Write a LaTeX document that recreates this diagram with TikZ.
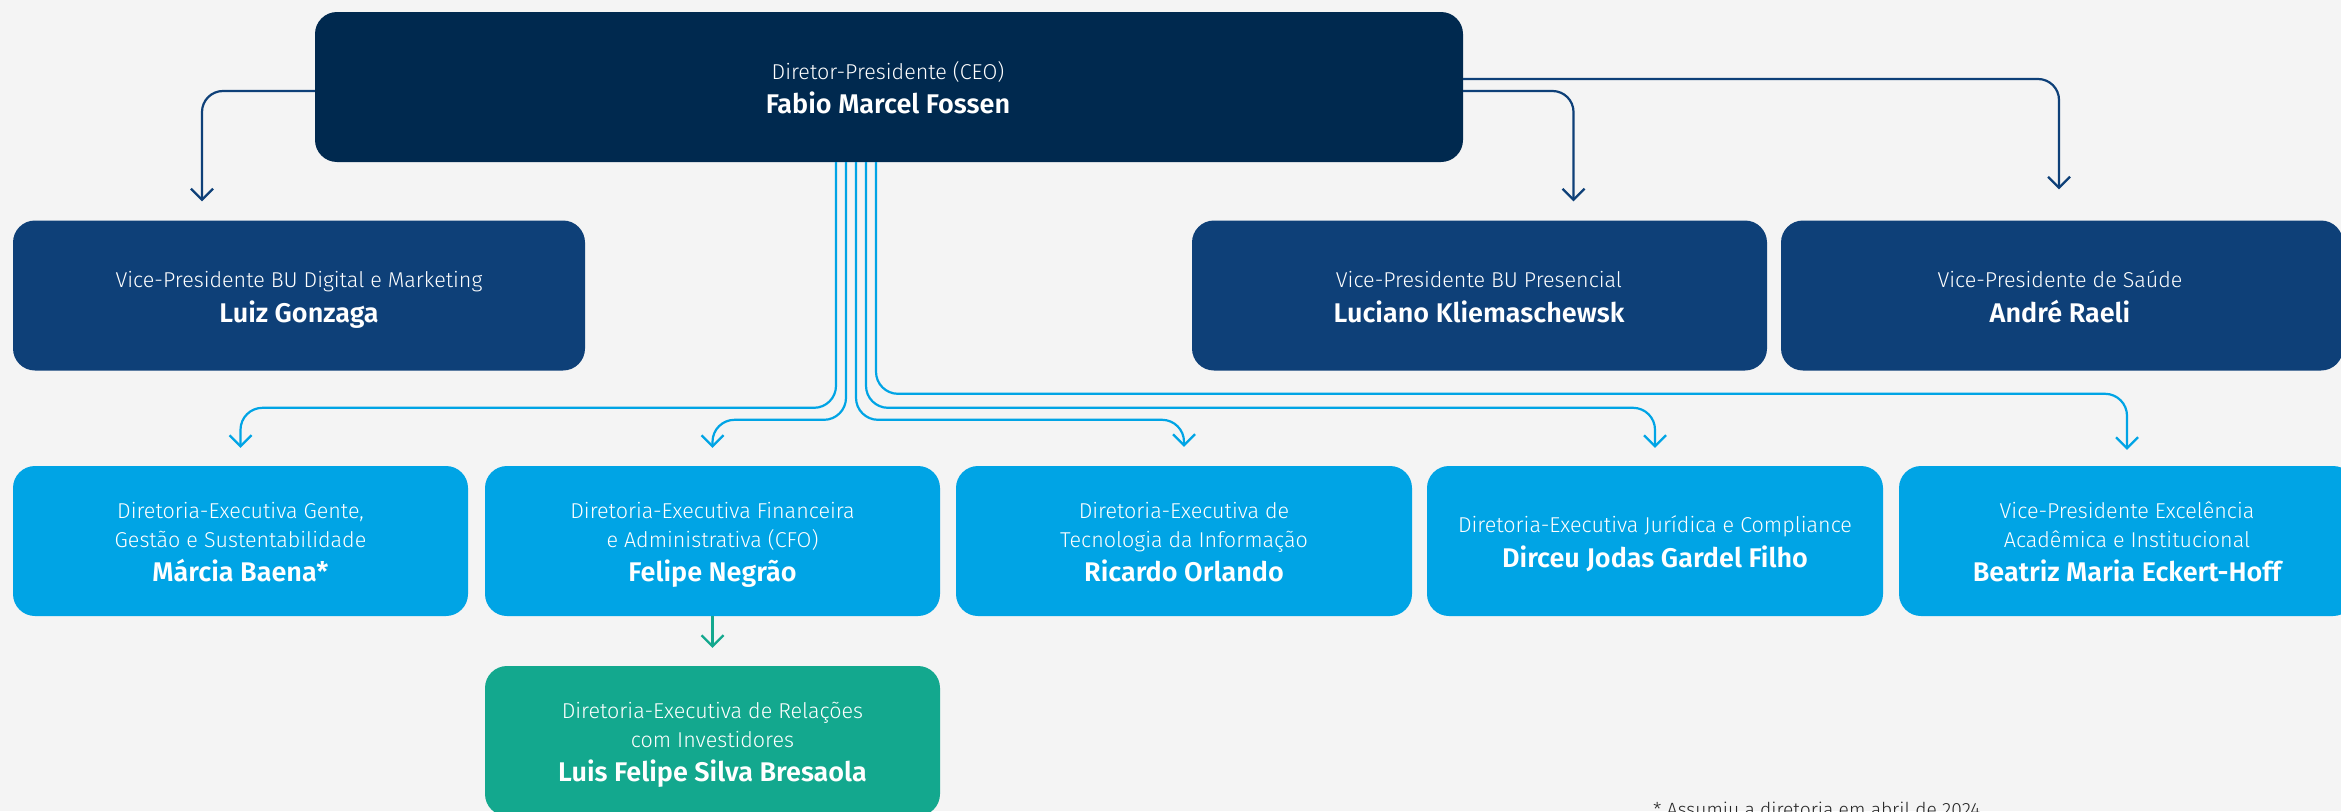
\documentclass[tikz,border=0pt]{standalone}
\usepackage{fontspec}
\setmainfont{Fira Sans}[UprightFont={* Light}, BoldFont={* SemiBold}]
\usetikzlibrary{arrows.meta}
\definecolor{bgc}{HTML}{F4F4F4}
\definecolor{ceoc}{HTML}{00294F}
\definecolor{vpc}{HTML}{0E4078}
\definecolor{dirc}{HTML}{00A4E5}
\definecolor{grnc}{HTML}{13A88E}
\tikzset{
  box/.style={rectangle, rounded corners=22pt, minimum height=150pt, inner sep=0pt, draw=none},
  ceobox/.style={box, fill=ceoc},
  vpbox/.style={box, fill=vpc},
  dirbox/.style={box, fill=dirc},
  grnbox/.style={box, fill=grnc},
  role/.style={anchor=base, inner sep=0pt, text=white, font=\fontsize{21.5}{26}\selectfont},
  pname/.style={anchor=base, inner sep=0pt, text=white, font=\bfseries\fontsize{27}{32}\selectfont},
  note/.style={anchor=base west, inner sep=0pt, text=black!85, font=\fontsize{19.2}{23}\selectfont},
  conn/.style={line width=2.2pt, -{Straight Barb[length=11pt, width=22pt, line width=2.2pt]}},
  darr/.style={conn, draw=vpc, rounded corners=21pt},
  larr/.style={conn, draw=dirc, rounded corners=22pt},
  garr/.style={conn, draw=grnc},
}
\begin{document}
\begin{tikzpicture}[x=1pt, y=-1pt]
\path[use as bounding box, fill=bgc] (0,0) rectangle (2341,811);
\begin{scope}
\clip (0,0) rectangle (2341,811);
% CEO
\node[ceobox, minimum width=1148pt] (ceo) at (889,87) {};
\node[role] (ceo-r) at (888,79) {Diretor-Presidente (CEO)};
\node[pname] (ceo-n) at (888,113) {Fabio Marcel Fossen};
% VP row
\node[vpbox, minimum width=572pt] (vp1) at (299,295.5) {};
\node[role] (vp1-r) at (299,287) {Vice-Presidente BU Digital e Marketing};
\node[pname] (vp1-n) at (299,322) {Luiz Gonzaga};
\node[vpbox, minimum width=575pt] (vp2) at (1479.5,295.5) {};
\node[role] (vp2-r) at (1479,287) {Vice-Presidente BU Presencial};
\node[pname] (vp2-n) at (1479,322) {Luciano Kliemaschewsk};
\node[vpbox, minimum width=562pt] (vp3) at (2062,295.5) {};
\node[role] (vp3-r) at (2060,287) {Vice-Presidente de Saúde};
\node[pname] (vp3-n) at (2060,322) {André Raeli};
% Directors row
\node[dirbox, minimum width=455pt] (mar) at (240.5,541) {};
\node[role] (mar-r1) at (240.5,518) {Diretoria-Executiva Gente,};
\node[role] (mar-r2) at (240.5,547) {Gestão e Sustentabilidade};
\node[pname] (mar-n) at (240.5,581) {Márcia Baena*};
\node[dirbox, minimum width=455pt] (fel) at (712.5,541) {};
\node[role] (fel-r1) at (712.5,518) {Diretoria-Executiva Financeira};
\node[role] (fel-r2) at (712.5,547) {e Administrativa (CFO)};
\node[pname] (fel-n) at (712.5,581) {Felipe Negrão};
\node[dirbox, minimum width=456pt] (ric) at (1184,541) {};
\node[role] (ric-r1) at (1184,518) {Diretoria-Executiva de};
\node[role] (ric-r2) at (1184,547) {Tecnologia da Informação};
\node[pname] (ric-n) at (1184,581) {Ricardo Orlando};
\node[dirbox, minimum width=456pt] (dir) at (1655,541) {};
\node[role] (dir-r) at (1655,532) {Diretoria-Executiva Jurídica e Compliance};
\node[pname] (dir-n) at (1655,567) {Dirceu Jodas Gardel Filho};
\node[dirbox, minimum width=456pt] (bea) at (2127,541) {};
\node[role] (bea-r1) at (2127,518) {Vice-Presidente Excelência};
\node[role] (bea-r2) at (2127,547) {Acadêmica e Institucional};
\node[pname] (bea-n) at (2127,581) {Beatriz Maria Eckert-Hoff};
% Green
\node[grnbox, minimum width=455pt] (grn) at (712.5,741) {};
\node[role] (grn-r1) at (712.5,718) {Diretoria-Executiva de Relações};
\node[role] (grn-r2) at (712.5,747) {com Investidores};
\node[pname] (grn-n) at (712.5,781) {Luis Felipe Silva Bresaola};
% footnote
\node[note] (fn) at (1653,816) {* Assumiu a diretoria em abril de 2024};
% dark connectors
\draw[darr] ([yshift=-4pt]ceo.west) -| ([xshift=-97pt, yshift=19pt]vp1.north);
\draw[darr] ([yshift=-4pt]ceo.east) -| ([xshift=94pt, yshift=19pt]vp2.north);
\draw[darr] ([yshift=8pt]ceo.east) -| ([xshift=-3pt, yshift=31pt]vp3.north);
% light connectors
\draw[larr] ([xshift=-53pt]ceo.south) |- ([yshift=58pt]mar.north) [rounded corners=17pt] -- ([yshift=18pt]mar.north);
\draw[larr] ([xshift=-43pt]ceo.south) |- ([yshift=46pt]fel.north) [rounded corners=13pt] -- ([yshift=18pt]fel.north);
\draw[larr] ([xshift=-33pt]ceo.south) |- ([yshift=46pt]ric.north) [rounded corners=10pt] -- ([yshift=19pt]ric.north);
\draw[larr] ([xshift=-23pt]ceo.south) |- ([yshift=58pt]dir.north) [rounded corners=16pt] -- ([yshift=18pt]dir.north);
\draw[larr] ([xshift=-13pt]ceo.south) |- ([yshift=72pt]bea.north) [rounded corners=22pt] -- ([yshift=16pt]bea.north);
% green connector
\draw[garr] (fel.south) -- ([yshift=18pt]grn.north);
\end{scope}
\end{tikzpicture}
\end{document}
